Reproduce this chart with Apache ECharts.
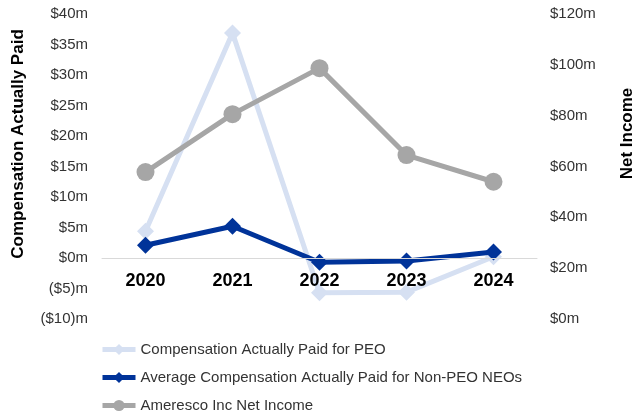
<!DOCTYPE html>
<html>
<head>
<meta charset="utf-8">
<script src="https://cdn.jsdelivr.net/npm/echarts@6/dist/echarts.min.js"></script>
<style>html,body{margin:0;padding:0;background:#fff}#c{width:635px;height:414px}</style>
</head>
<body>
<div id="c"></div>
<script>
const categories = ['2020', '2021', '2022', '2023', '2024'];
const peoCap = [4.4, 36.9, -5.7, -5.6, 0.2];
const neoCap = [2.1, 5.2, -0.7, -0.5, 1.0];
const netIncome = [57.8, 80.6, 98.7, 64.5, 54.0];
const seriesNames = ['Compensation Actually Paid for PEO', 'Average Compensation Actually Paid for Non-PEO NEOs', 'Ameresco Inc Net Income'];
const leftAxisName = 'Compensation Actually Paid';
const rightAxisName = 'Net Income';

const chart = echarts.init(document.getElementById('c'), null, {renderer: 'canvas'});
const font = 'Liberation Sans, Arial, sans-serif';
chart.setOption({
  animation: false,
  textStyle: {fontFamily: font},
  grid: {left: 102, right: 98, top: 14, bottom: 95, outerBoundsMode: 'none', containLabel: false},
  legend: {
    orient: 'vertical', left: 100, top: 342, padding: 0,
    itemWidth: 33, itemHeight: 14, itemGap: 13,
    lineStyle: {width: 5},
    textStyle: {fontSize: 15, color: '#333', fontFamily: font},
    data: seriesNames
  },
  xAxis: {
    type: 'category', data: categories, boundaryGap: true,
    offset: -61, z: 10,
    axisLine: {onZero: false, lineStyle: {color: '#d9d9d9', width: 1}},
    axisTick: {show: false},
    axisLabel: {fontSize: 18, fontWeight: 'bold', color: '#000', margin: 14}
  },
  yAxis: [{
    type: 'value', min: -10, max: 40, interval: 5,
    name: leftAxisName, nameLocation: 'middle', nameGap: 75, nameRotate: 90,
    nameTextStyle: {fontSize: 17, fontWeight: 'bold', color: '#000', padding: [0, 0, 0, 45]},
    splitLine: {show: false}, axisLine: {show: false}, axisTick: {show: false},
    axisLabel: {fontSize: 15, color: '#333', margin: 14,
      formatter: v => v < 0 ? '($' + (-v) + ')m' : '$' + v + 'm'}
  }, {
    type: 'value', min: 0, max: 120, interval: 20,
    name: rightAxisName, nameLocation: 'middle', nameGap: 82, nameRotate: 90,
    nameTextStyle: {fontSize: 17, fontWeight: 'bold', color: '#000', padding: [0, 0, 0, 66]},
    splitLine: {show: false}, axisLine: {show: false}, axisTick: {show: false},
    axisLabel: {fontSize: 15, color: '#333', margin: 13, formatter: v => '$' + v + 'm'}
  }],
  series: [{
    name: seriesNames[0], type: 'line', data: peoCap, yAxisIndex: 0, z: 2,
    symbol: 'diamond', symbolSize: 17, color: '#d6e0f2',
    lineStyle: {width: 5, color: '#d6e0f2'}, itemStyle: {color: '#d6e0f2'}
  }, {
    name: seriesNames[1], type: 'line', data: neoCap, yAxisIndex: 0, z: 4,
    symbol: 'diamond', symbolSize: 17, color: '#003399',
    lineStyle: {width: 5, color: '#003399'}, itemStyle: {color: '#003399'}
  }, {
    name: seriesNames[2], type: 'line', data: netIncome, yAxisIndex: 1, z: 3,
    symbol: 'circle', symbolSize: 18, color: '#a6a6a6',
    lineStyle: {width: 5, color: '#a6a6a6'}, itemStyle: {color: '#a6a6a6'}
  }]
});
</script>
</body>
</html>
